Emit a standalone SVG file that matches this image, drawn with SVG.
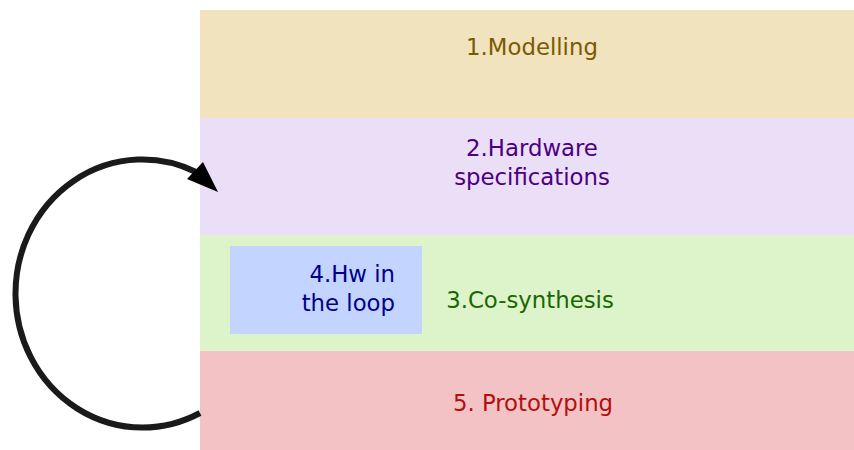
<svg xmlns="http://www.w3.org/2000/svg" width="854" height="450" viewBox="0 0 854 450">
<style>
text{font-family:"DejaVu Sans",sans-serif;font-size:22.8px}
.c{text-anchor:middle}
.r{text-anchor:end}
</style>
<rect width="854" height="450" fill="#ffffff"/>
<g id="modelling"><rect x="200" y="10" width="654" height="108" fill="#f2e3bf"/><text class="c" x="532" y="55" fill="#7a5a00">1.Modelling</text></g>
<g id="hardware"><rect x="200" y="118" width="654" height="117" fill="#ebdef7"/><text class="c" x="532" y="156" fill="#4b0082">2.Hardware</text><text class="c" x="532" y="185" fill="#4b0082">specifications</text></g>
<g id="cosynthesis"><rect x="200" y="235" width="654" height="116" fill="#ddf4cb"/><text class="c" x="530" y="308" fill="#1a6600">3.Co-synthesis</text></g>
<g id="hwloop"><rect x="230" y="246" width="192" height="88" fill="#c2d4ff"/><text class="r" x="395" y="282" fill="#00008b">4.Hw in</text><text class="r" x="395" y="311" fill="#00008b">the loop</text></g>
<g id="prototyping"><rect x="200" y="351" width="654" height="99" fill="#f2c2c4"/><text class="c" x="533" y="411" fill="#b30f0f">5. Prototyping</text></g>
<g id="connectors">
<path d="M200,413 A127,134 0 1,1 196,172" fill="none" stroke="#1a1a1a" stroke-width="6"/>
<polygon points="218,192 203,162 187,179" fill="#000000"/>
</g>
</svg>
